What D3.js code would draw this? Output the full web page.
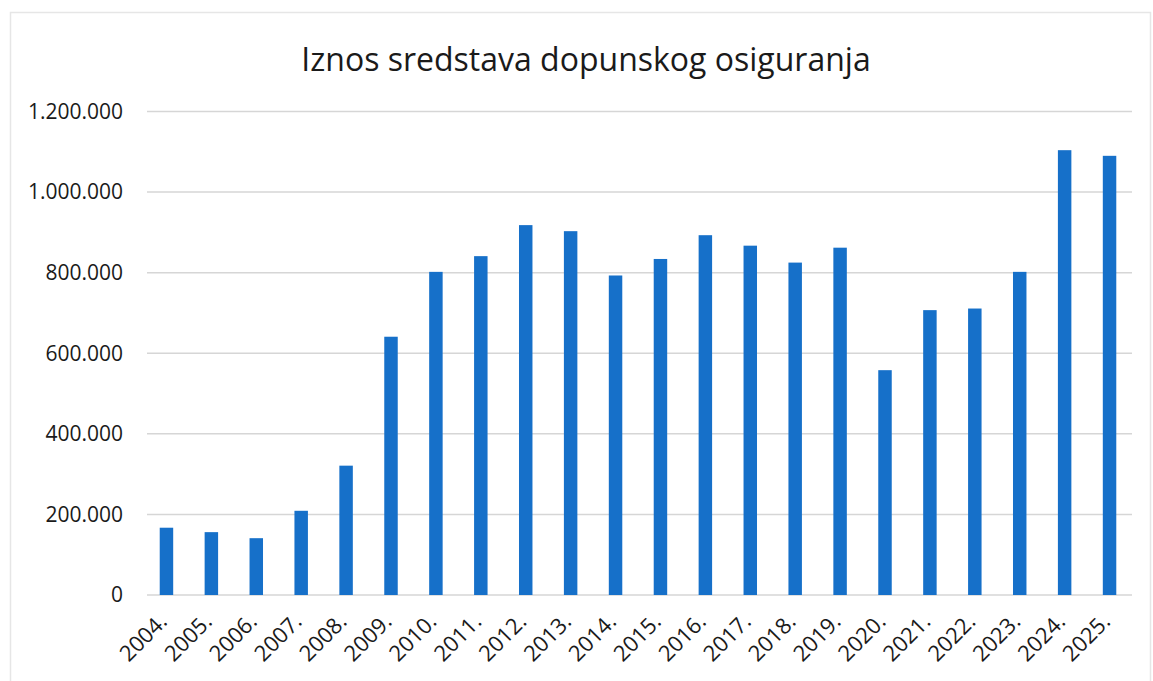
<!DOCTYPE html>
<html>
<head>
<meta charset="utf-8">
<script src="https://cdn.jsdelivr.net/npm/d3@7"></script>
<style>
  body { margin: 0; background: #fff; }
  text { font-family: "Open Sans", sans-serif; fill: #1a1a1a; }
</style>
</head>
<body>
<script>
const title = "Iznos sredstava dopunskog osiguranja"
const years = ["2004.", "2005.", "2006.", "2007.", "2008.", "2009.", "2010.", "2011.",
  "2012.", "2013.", "2014.", "2015.", "2016.", "2017.", "2018.", "2019.",
  "2020.", "2021.", "2022.", "2023.", "2024.", "2025."]
const amounts = [167000, 156000, 141000, 209000, 321000, 641000, 802000, 841000,
  918000, 903000, 793000, 834000, 893000, 867000, 825000, 862000,
  558000, 707000, 711000, 802000, 1104000, 1090000]
const yTicks = [0, 200000, 400000, 600000, 800000, 1000000, 1200000]

const w = 1153
const h = 681
const margin = { top: 111.5, right: 21, bottom: 86, left: 144 }

const svg = d3.select('body')
    .append('svg')
    .attr('width', w)
    .attr('height', h)

// faint outer frame of the chart area
svg.append('rect')
    .attr('x', 10.5)
    .attr('y', 12.5)
    .attr('width', 1140)
    .attr('height', 700)
    .attr('fill', 'none')
    .attr('stroke', '#e6e6e6')
    .attr('stroke-width', 1.5)

const x = d3.scaleBand()
    .domain(years)
    .range([margin.left, w - margin.right])
    .paddingInner(0.7)
    .paddingOuter(0.35)

const y = d3.scaleLinear()
    .domain([0, 1200000])
    .range([h - margin.bottom, margin.top])

const fmt = d => d === 0 ? '0' : d3.format(',')(d).replace(/,/g, '.')

// gridlines
svg.append('g')
    .selectAll('line')
    .data(yTicks)
    .enter()
    .append('line')
    .attr('x1', margin.left + 3)
    .attr('x2', w - margin.right)
    .attr('y1', d => y(d))
    .attr('y2', d => y(d))
    .attr('stroke', '#d6d6d6')
    .attr('stroke-width', 1.5)

// y tick labels
svg.append('g')
    .selectAll('text')
    .data(yTicks)
    .enter()
    .append('text')
    .attr('x', 123)
    .attr('y', d => y(d))
    .attr('dy', '0.35em')
    .attr('text-anchor', 'end')
    .style('font-size', '21px')
    .text(fmt)

// bars
svg.append('g')
    .selectAll('rect')
    .data(amounts)
    .enter()
    .append('rect')
    .attr('x', (d, i) => x(years[i]))
    .attr('y', d => y(d))
    .attr('width', x.bandwidth())
    .attr('height', d => y(0) - y(d))
    .attr('fill', '#1670c9')

// x labels, rotated
svg.append('g')
    .selectAll('text')
    .data(years)
    .enter()
    .append('text')
    .attr('transform', d => `translate(${x(d) + x.bandwidth() / 2 + 2}, ${y(0) + 28}) rotate(-45)`)
    .attr('text-anchor', 'end')
    .style('font-size', '22px')
    .text(d => d)

svg.append('text')
    .attr('x', 586)
    .attr('y', 71)
    .attr('text-anchor', 'middle')
    .style('font-size', '32px')
    .text(title)
</script>
</body>
</html>
